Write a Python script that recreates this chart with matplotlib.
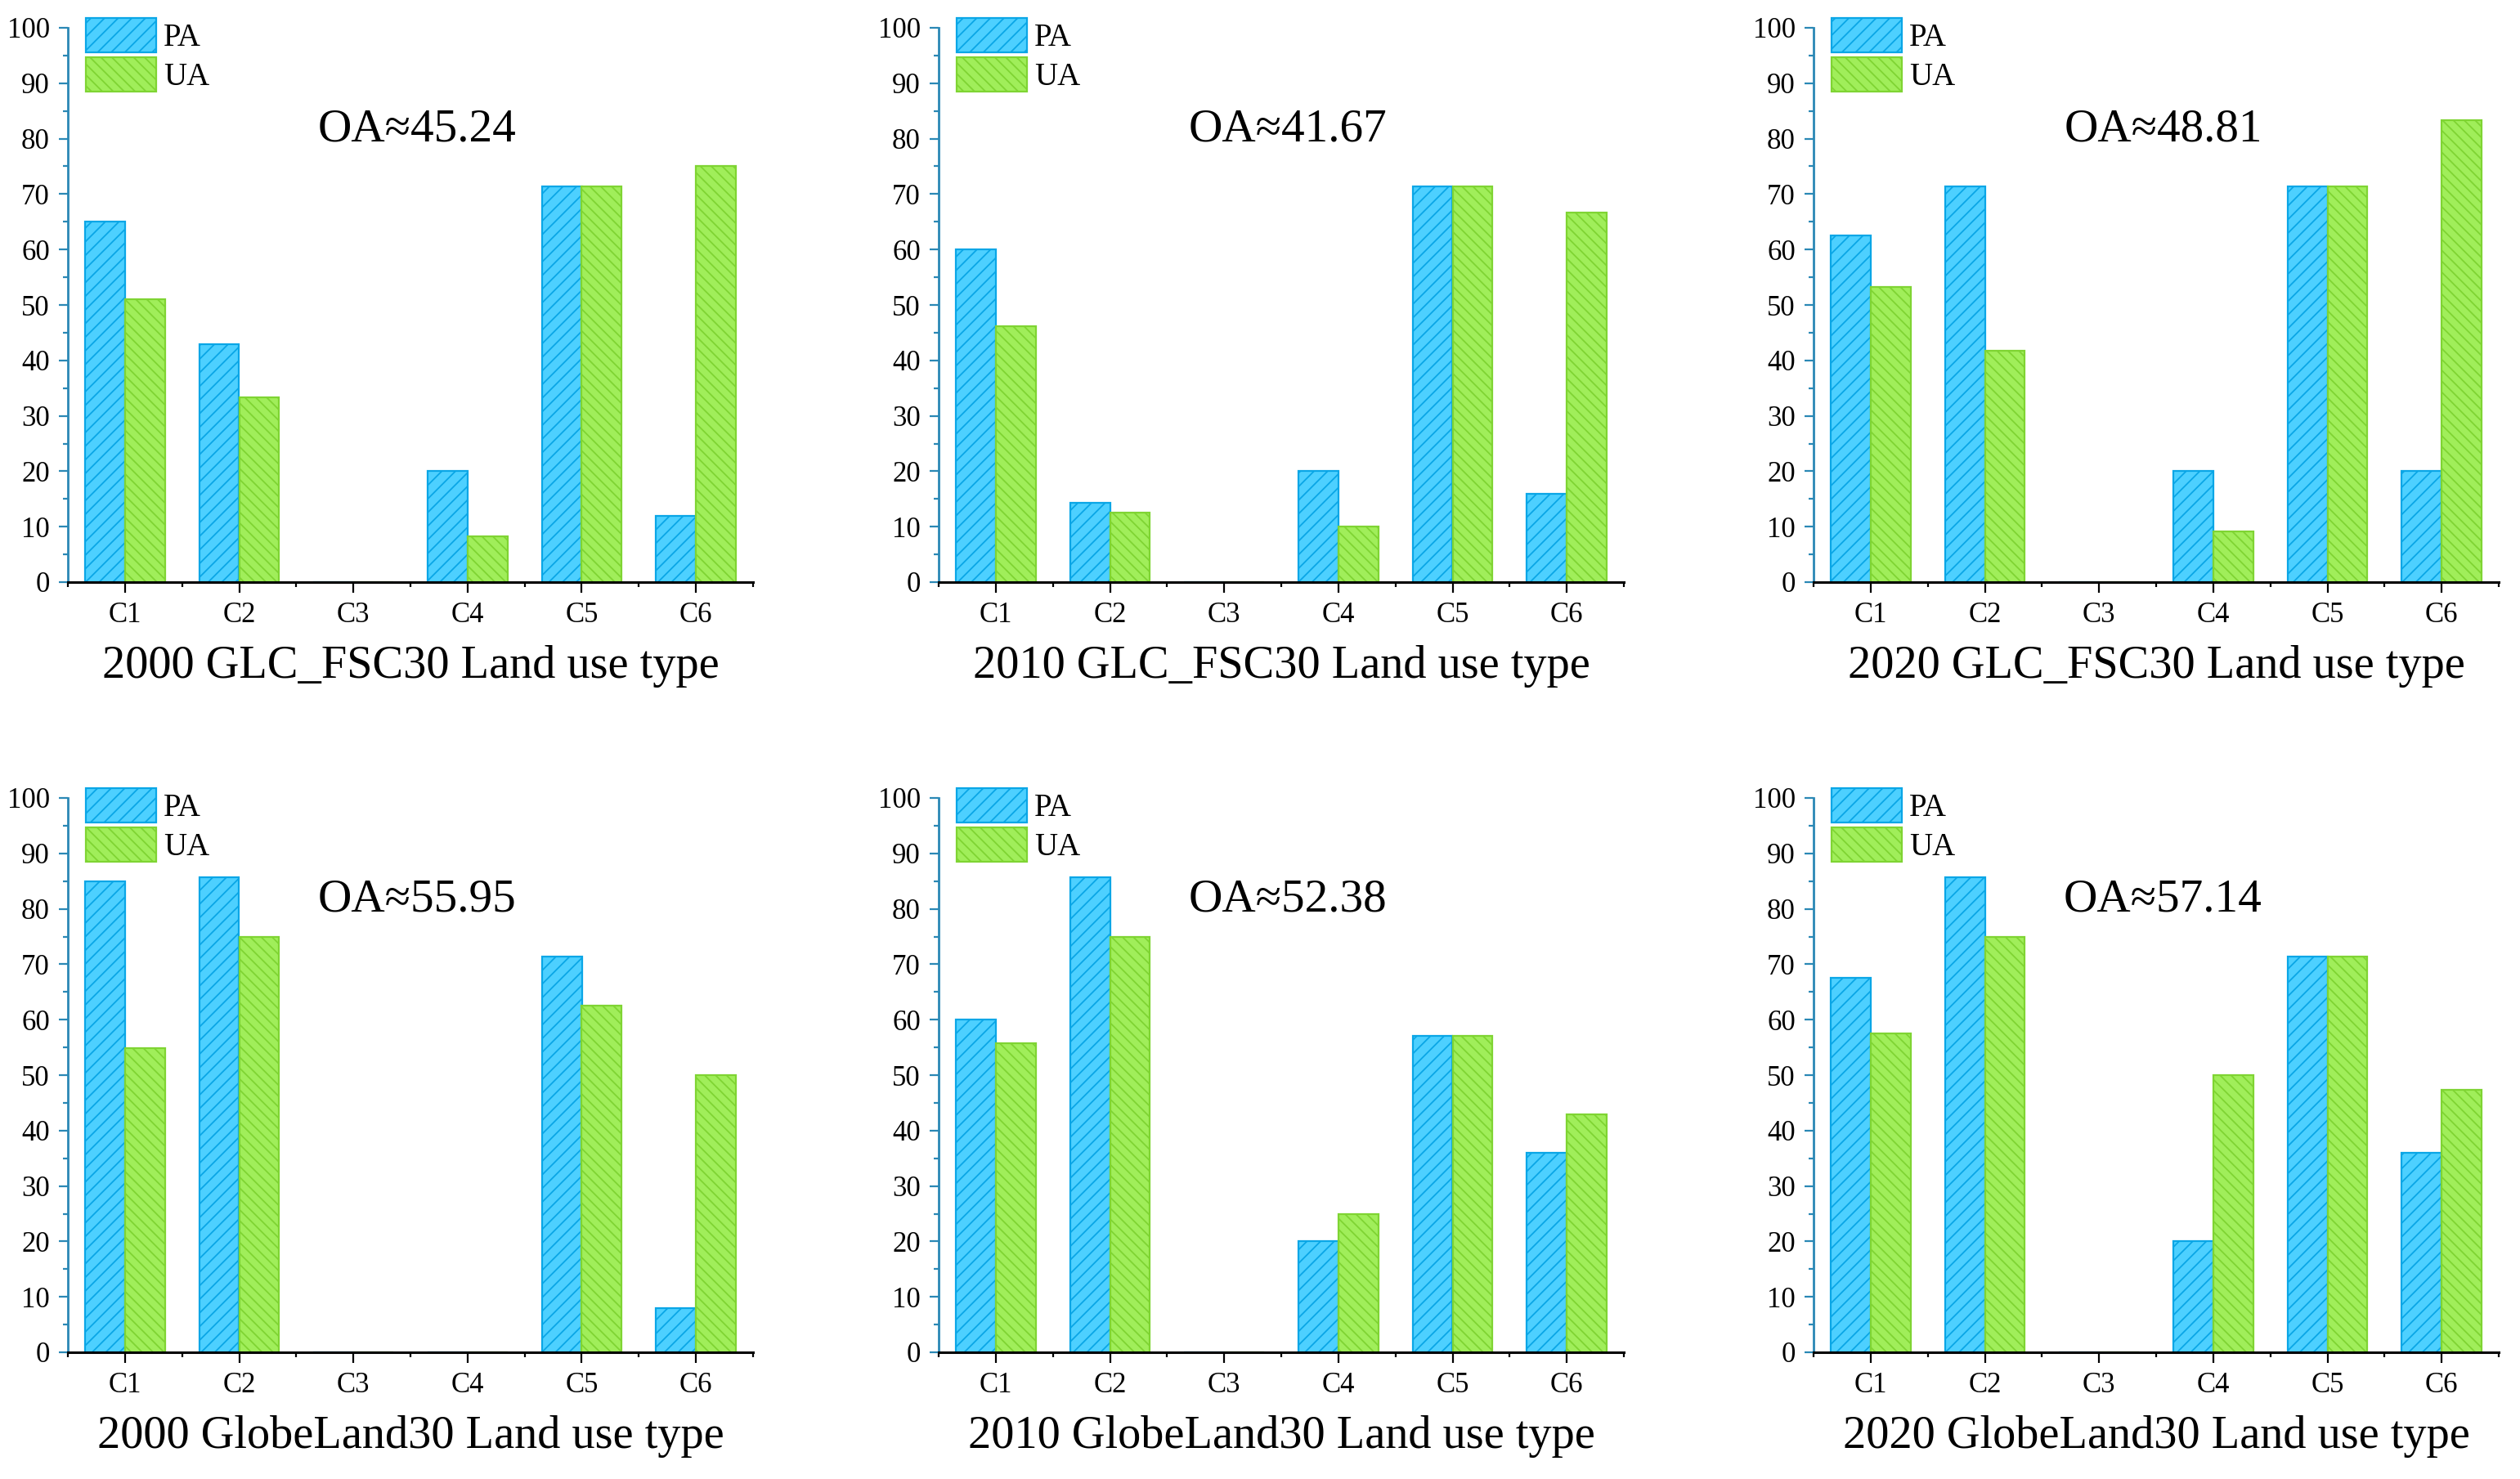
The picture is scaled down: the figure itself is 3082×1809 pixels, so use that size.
import matplotlib
matplotlib.use("Agg")
import matplotlib.pyplot as plt
import numpy as np
from matplotlib.ticker import MultipleLocator, FixedLocator

plt.rcParams['font.family'] = ['Liberation Serif', 'DejaVu Serif']
plt.rcParams['hatch.linewidth'] = 0.65

categories = ["C1", "C2", "C3", "C4", "C5", "C6"]

titles = [
    "2000 GLC_FSC30 Land use type",
    "2010 GLC_FSC30 Land use type",
    "2020 GLC_FSC30 Land use type",
    "2000 GlobeLand30 Land use type",
    "2010 GlobeLand30 Land use type",
    "2020 GlobeLand30 Land use type",
]
oa_values = ["45.24", "41.67", "48.81", "55.95", "52.38", "57.14"]

pa_2000_glc = [65.0, 42.86, 0, 20.0, 71.43, 12.0]
ua_2000_glc = [50.98, 33.33, 0, 8.33, 71.43, 75.0]
pa_2010_glc = [60.0, 14.29, 0, 20.0, 71.43, 16.0]
ua_2010_glc = [46.15, 12.5, 0, 10.0, 71.43, 66.67]
pa_2020_glc = [62.5, 71.43, 0, 20.0, 71.43, 20.0]
ua_2020_glc = [53.19, 41.67, 0, 9.09, 71.43, 83.33]
pa_2000_gl = [85.0, 85.71, 0, 0, 71.43, 8.0]
ua_2000_gl = [54.84, 75.0, 0, 0, 62.5, 50.0]
pa_2010_gl = [60.0, 85.71, 0, 20.0, 57.14, 36.0]
ua_2010_gl = [55.74, 75.0, 0, 25.0, 57.14, 42.86]
pa_2020_gl = [67.5, 85.71, 0, 20.0, 71.43, 36.0]
ua_2020_gl = [57.45, 75.0, 0, 50.0, 71.43, 47.37]

pa_all = [pa_2000_glc, pa_2010_glc, pa_2020_glc, pa_2000_gl, pa_2010_gl, pa_2020_gl]
ua_all = [ua_2000_glc, ua_2010_glc, ua_2020_glc, ua_2000_gl, ua_2010_gl, ua_2020_gl]

W, H = 3082, 1809
fig = plt.figure(figsize=(W / 200, H / 200), dpi=200)

lefts = [83, 1148, 2218]
tops = [34, 976]
ax_w = 838
ax_h = 678

pa_face = "#4dd0ff"
pa_edge = "#0aa6e6"
ua_face = "#a0ee5a"
ua_edge = "#7fd433"
yaxis_col = "#2a88b5"

x = np.arange(1, len(categories) + 1)
bw = 0.35

for i in range(6):
    r, c = divmod(i, 3)
    left = lefts[c] / W
    bottom = 1 - (tops[r] + ax_h) / H
    ax = fig.add_axes([left, bottom, ax_w / W, ax_h / H])
    ax.bar(x - bw / 2, pa_all[i], width=bw, facecolor=pa_face, edgecolor=pa_edge,
           hatch="////", linewidth=0.8, label="PA", zorder=2)
    ax.bar(x + bw / 2, ua_all[i], width=bw, facecolor=ua_face, edgecolor=ua_edge,
           hatch="\\\\\\\\\\", linewidth=0.8, label="UA", zorder=2)
    ax.set_xlim(0.5, 6.5)
    ax.set_ylim(0, 100)
    ax.set_xticks(x)
    ax.set_xticklabels(categories)
    ax.xaxis.set_minor_locator(FixedLocator(np.arange(0.5, 7.0, 1.0)))
    ax.yaxis.set_major_locator(MultipleLocator(10))
    ax.yaxis.set_minor_locator(MultipleLocator(5))
    for s in ["top", "right"]:
        ax.spines[s].set_visible(False)
    ax.spines["left"].set_color(yaxis_col)
    ax.spines["left"].set_linewidth(1.0)
    ax.spines["bottom"].set_color("black")
    ax.spines["bottom"].set_linewidth(1.1)
    ax.spines["bottom"].set_zorder(3)
    ax.tick_params(axis="y", which="major", direction="out", length=4, width=0.8,
                   color=yaxis_col, labelsize=12.5, pad=4)
    ax.tick_params(axis="y", which="minor", direction="out", length=2.2, width=0.8,
                   color=yaxis_col)
    ax.tick_params(axis="x", which="major", direction="out", length=4.7, width=0.8,
                   color="black", labelsize=12.5, pad=4)
    ax.tick_params(axis="x", which="minor", direction="out", length=2.2, width=0.8,
                   color="black")
    ax.set_xlabel(titles[i], fontsize=20.3)
    ax.xaxis.set_label_coords(0.5, -0.152)
    ax.xaxis.label.set_va("center")
    ax.text(0.51, 0.817, "OA\u2248" + oa_values[i], transform=ax.transAxes,
            ha="center", va="center", fontsize=20.6)
    ax.legend(loc="upper left", bbox_to_anchor=(22 / ax_w, 1 + 12 / ax_h),
              frameon=False, fontsize=14, borderpad=0, borderaxespad=0,
              handlelength=2.2, handleheight=1.3, labelspacing=0.12,
              handletextpad=0.25)

fig.savefig("out.png", dpi=200)
